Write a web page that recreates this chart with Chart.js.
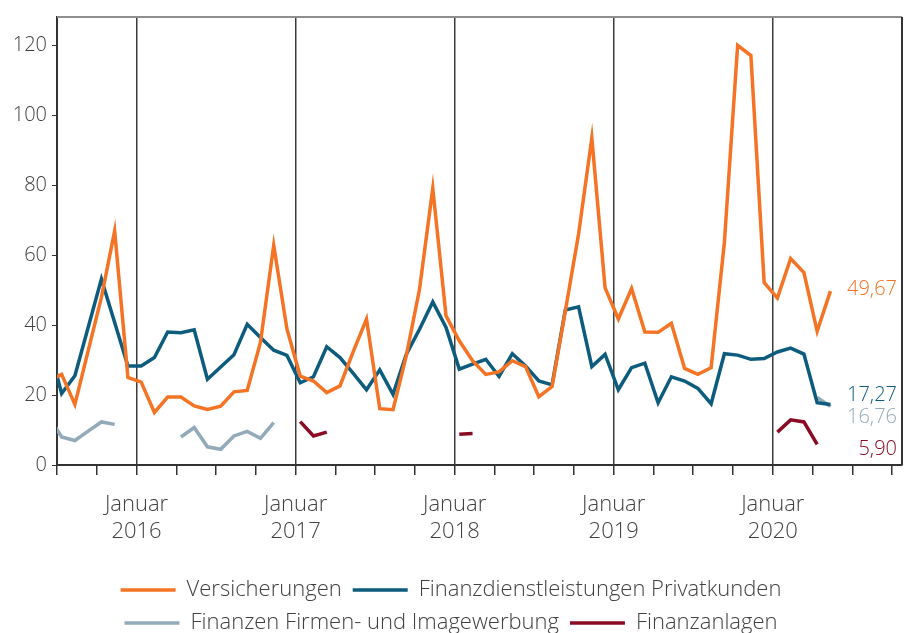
<!DOCTYPE html>
<html lang="de">
<head>
<meta charset="UTF-8">
<title>Werbeausgaben Finanzen</title>
<script src="https://cdn.jsdelivr.net/npm/chart.js"></script>
<style>
  html, body { margin: 0; padding: 0; background: #fff; }
  #wrap { width: 912px; height: 633px; }
</style>
</head>
<body>
<div id="wrap"><canvas id="chart" width="912" height="633"></canvas></div>
<script>
// Monatswerte ab Juni 2015 (der erste Wert liegt links außerhalb der Achse)
const months = [
  '2015-06', '2015-07', '2015-08', '2015-09', '2015-10', '2015-11', '2015-12',
  '2016-01', '2016-02', '2016-03', '2016-04', '2016-05', '2016-06', '2016-07', '2016-08', '2016-09', '2016-10', '2016-11', '2016-12',
  '2017-01', '2017-02', '2017-03', '2017-04', '2017-05', '2017-06', '2017-07', '2017-08', '2017-09', '2017-10', '2017-11', '2017-12',
  '2018-01', '2018-02', '2018-03', '2018-04', '2018-05', '2018-06', '2018-07', '2018-08', '2018-09', '2018-10', '2018-11', '2018-12',
  '2019-01', '2019-02', '2019-03', '2019-04', '2019-05', '2019-06', '2019-07', '2019-08', '2019-09', '2019-10', '2019-11', '2019-12',
  '2020-01', '2020-02', '2020-03', '2020-04', '2020-05'
];

const versicherungen = [
  24, 25.9, 17.3, 32.6, 47.9, 66.9, 25.0,
  23.7, 15.0, 19.4, 19.4, 16.9, 15.9, 16.8, 20.9, 21.3, 35.0, 62.8, 38.8,
  25.4, 24.0, 20.7, 22.6, 32.4, 41.7, 16.1, 15.8, 31.2, 50.2, 79.1, 42.6,
  35.5, 29.8, 25.9, 26.6, 29.8, 28.1, 19.5, 22.4, 44, 66, 93.4, 50.6,
  41.7, 50.4, 38.0, 37.9, 40.5, 27.6, 25.9, 27.8, 63.6, 119.9, 117.0, 52.1,
  47.7, 59.0, 55.0, 38.2, 49.67
];

const privatkunden = [
  35, 20.4, 25.5, 39.3, 53.1, 40.7, 28.3,
  28.3, 30.7, 38.0, 37.8, 38.6, 24.5, 28.0, 31.5, 40.2, 36.4, 32.8, 31.3,
  23.5, 25.2, 33.8, 30.7, 26.2, 21.5, 27.2, 20.2, 31.6, 38.8, 46.6, 39.3,
  27.4, 28.8, 30.2, 25.3, 31.8, 28.3, 24.0, 22.9, 44.3, 45.2, 28.1, 31.6,
  21.5, 27.8, 29.1, 17.8, 25.2, 24.0, 21.9, 17.5, 31.8, 31.4, 30.2, 30.4,
  32.3, 33.4, 31.7, 17.8, 17.27
];

const firmenImage = [
  14, 8.0, 7.0, 9.7, 12.3, 11.6, null,
  null, null, null, 8.0, 10.7, 5.2, 4.5, 8.3, 9.6, 7.6, 12.1, null,
  null, null, null, null, null, null, null, null, null, null, null, null,
  null, null, null, null, null, null, null, null, null, null, null, null,
  null, null, null, null, null, null, null, null, null, null, null, null,
  null, null, null, 19.3, 16.76
];

const finanzanlagen = [
  null, null, null, null, null, null, null,
  null, null, null, null, null, null, null, null, null, null, null, null,
  12.4, 8.3, 9.4, null, null, null, null, null, null, null, null, null,
  8.8, 9.0, null, null, null, null, null, null, null, null, null, null,
  null, null, null, null, null, null, null, null, null, null, null, null,
  9.4, 12.9, 12.3, 5.9, null
];

const seriesNames = ['Versicherungen', 'Finanzdienstleistungen Privatkunden', 'Finanzen Firmen- und Imagewerbung', 'Finanzanlagen'];
const seriesColors = ['#f47324', '#0d5b7d', '#93aab8', '#8a0b24'];
const endLabels = ['49,67', '17,27', '16,76', '5,90'];
const yearLabels = ['2016', '2017', '2018', '2019', '2020'];
const monthLabel = 'Januar';

// x-Achse: Monate seit Juli 2015, Werte liegen etwa beim Monatsdrittel
function toPoints(values) {
  return values.map((v, i) => ({ x: i - 1 + 0.35, y: v }));
}

const allSeries = [versicherungen, privatkunden, firmenImage, finanzanlagen];

const datasets = allSeries.map((vals, k) => ({
  label: seriesNames[k],
  data: toPoints(vals),
  borderColor: seriesColors[k],
  backgroundColor: seriesColors[k],
  borderWidth: 3.5,
  pointRadius: 0,
  tension: 0,
  spanGaps: false,
  clip: 0
}));

const textColor = '#404040';
const fontFamily = '"Open Sans", Lato, sans-serif';

const frameAndLabels = {
  id: 'frameAndLabels',
  afterLayout(chart) {
    // Legende etwas tiefer setzen
    chart.legend.top += 11;
    chart.legend.bottom += 11;
  },
  afterDatasetsDraw(chart) {
    const { ctx, chartArea: a, scales } = chart;
    ctx.save();
    ctx.lineWidth = 2;
    ctx.strokeStyle = '#8e8e8e';
    ctx.beginPath();
    ctx.moveTo(a.left, a.top);
    ctx.lineTo(a.right, a.top);
    ctx.stroke();
    ctx.strokeStyle = '#333';
    ctx.beginPath();
    ctx.moveTo(a.right, a.top);
    ctx.lineTo(a.right, a.bottom);
    ctx.stroke();

    // Endwerte rechts
    const nudge = [-2, -9, 11, 5];
    ctx.font = '300 20px ' + fontFamily;
    ctx.textAlign = 'right';
    ctx.textBaseline = 'middle';
    allSeries.forEach((vals, k) => {
      const last = vals.filter(v => v !== null).pop();
      ctx.fillStyle = seriesColors[k];
      ctx.fillText(endLabels[k], a.right - 5, scales.y.getPixelForValue(last) + nudge[k]);
    });
    ctx.restore();
  }
};

new Chart(document.getElementById('chart'), {
  type: 'line',
  data: { datasets: datasets },
  plugins: [frameAndLabels],
  options: {
    responsive: false,
    animation: false,
    layout: { padding: { top: 15, right: 10, left: 0, bottom: 0 } },
    plugins: {
      tooltip: { enabled: false },
      legend: {
        position: 'bottom',
        labels: {
          usePointStyle: true,
          pointStyle: 'line',
          pointStyleWidth: 55,
          padding: 11,
          color: textColor,
          font: { family: fontFamily, size: 22, weight: 300 }
        }
      }
    },
    scales: {
      x: {
        type: 'linear',
        min: 0,
        max: 63.75,
        afterFit(scale) { scale.height = 92; },
        border: { display: true, color: '#333', width: 2 },
        grid: {
          drawOnChartArea: true,
          drawTicks: true,
          tickLength: 10,
          lineWidth: 1.5,
          color: ctx => (ctx.tick && (ctx.tick.value - 6) % 12 === 0) ? '#3c3c3c' : 'rgba(0,0,0,0)',
          tickColor: '#333'
        },
        ticks: {
          stepSize: 3,
          includeBounds: false,
          autoSkip: false,
          maxRotation: 0,
          padding: 16,
          color: textColor,
          font: { family: fontFamily, size: 22, weight: 300, lineHeight: 1.23 },
          callback: v => ((v - 6) % 12 === 0 && yearLabels[(v - 6) / 12]) ? [monthLabel, yearLabels[(v - 6) / 12]] : ''
        }
      },
      y: {
        min: 0,
        max: 128,
        afterFit(scale) { scale.width = 57; },
        border: { display: true, color: '#333', width: 2 },
        grid: { drawOnChartArea: false, drawTicks: true, tickLength: 5, tickColor: '#333' },
        ticks: {
          stepSize: 20,
          includeBounds: false,
          padding: 5,
          color: textColor,
          font: { family: fontFamily, size: 20, weight: 300 }
        }
      }
    }
  }
});
</script>
</body>
</html>
